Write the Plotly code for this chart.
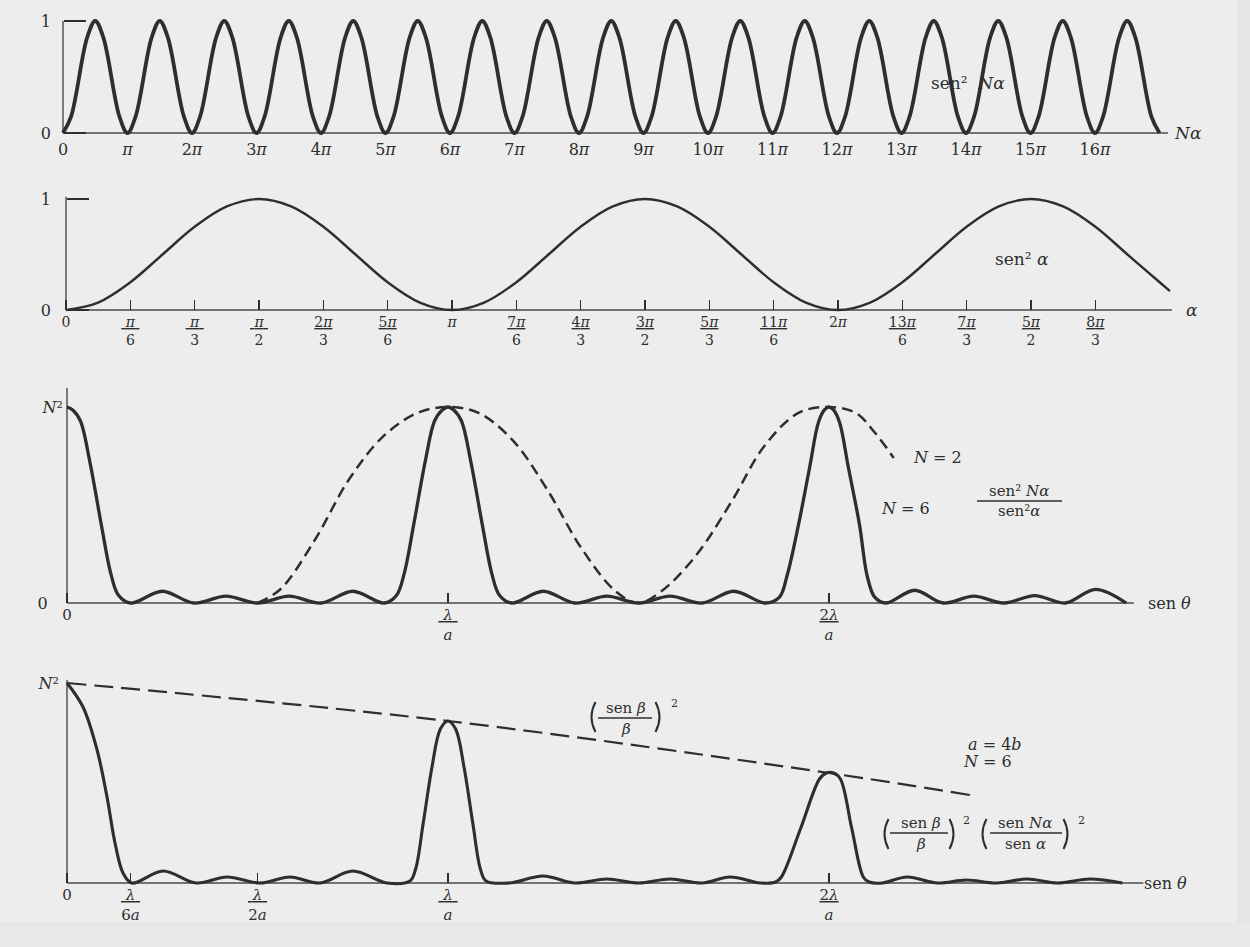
import plotly.graph_objects as go

W, H = 1250, 947
INK = "#2e2e2e"
FONT = "DejaVu Serif"

# ---------------- data ----------------
# Panel 1: sen^2 N alpha, x in units of pi
na_x = [0, 0.125, 0.375, 0.5, 0.625, 0.875,
        1, 1.125, 1.375, 1.5, 1.625, 1.875,
        2, 2.125, 2.375, 2.5, 2.625, 2.875,
        3, 3.125, 3.375, 3.5, 3.625, 3.875,
        4, 4.125, 4.375, 4.5, 4.625, 4.875,
        5, 5.125, 5.375, 5.5, 5.625, 5.875,
        6, 6.125, 6.375, 6.5, 6.625, 6.875,
        7, 7.125, 7.375, 7.5, 7.625, 7.875,
        8, 8.125, 8.375, 8.5, 8.625, 8.875,
        9, 9.125, 9.375, 9.5, 9.625, 9.875,
        10, 10.125, 10.375, 10.5, 10.625, 10.875,
        11, 11.125, 11.375, 11.5, 11.625, 11.875,
        12, 12.125, 12.375, 12.5, 12.625, 12.875,
        13, 13.125, 13.375, 13.5, 13.625, 13.875,
        14, 14.125, 14.375, 14.5, 14.625, 14.875,
        15, 15.125, 15.375, 15.5, 15.625, 15.875,
        16, 16.125, 16.375, 16.5, 16.625, 16.875,
        17]
na_y = [0, 0.146, 0.854, 1, 0.854, 0.146,
        0, 0.146, 0.854, 1, 0.854, 0.146,
        0, 0.146, 0.854, 1, 0.854, 0.146,
        0, 0.146, 0.854, 1, 0.854, 0.146,
        0, 0.146, 0.854, 1, 0.854, 0.146,
        0, 0.146, 0.854, 1, 0.854, 0.146,
        0, 0.146, 0.854, 1, 0.854, 0.146,
        0, 0.146, 0.854, 1, 0.854, 0.146,
        0, 0.146, 0.854, 1, 0.854, 0.146,
        0, 0.146, 0.854, 1, 0.854, 0.146,
        0, 0.146, 0.854, 1, 0.854, 0.146,
        0, 0.146, 0.854, 1, 0.854, 0.146,
        0, 0.146, 0.854, 1, 0.854, 0.146,
        0, 0.146, 0.854, 1, 0.854, 0.146,
        0, 0.146, 0.854, 1, 0.854, 0.146,
        0, 0.146, 0.854, 1, 0.854, 0.146,
        0, 0.146, 0.854, 1, 0.854, 0.146,
        0]
na_ticks = [0, 1, 2, 3, 4, 5, 6, 7, 8, 9, 10, 11, 12, 13, 14, 15, 16]
na_labels = ["0", "<i>π</i>", "2<i>π</i>", "3<i>π</i>", "4<i>π</i>", "5<i>π</i>",
             "6<i>π</i>", "7<i>π</i>", "8<i>π</i>", "9<i>π</i>", "10<i>π</i>",
             "11<i>π</i>", "12<i>π</i>", "13<i>π</i>", "14<i>π</i>", "15<i>π</i>",
             "16<i>π</i>"]

# Panel 2: sen^2 alpha, x in units of pi
al_x = [0, 0.0833, 0.1667, 0.25, 0.3333, 0.4167, 0.5, 0.5833, 0.6667, 0.75, 0.8333,
        0.9167, 1.0, 1.0833, 1.1667, 1.25, 1.3333, 1.4167, 1.5, 1.5833, 1.6667, 1.75,
        1.8333, 1.9167, 2.0, 2.0833, 2.1667, 2.25, 2.3333, 2.4167, 2.5, 2.5833, 2.6667,
        2.75, 2.8333, 2.86]
al_y = [0, 0.067, 0.25, 0.5, 0.75, 0.933, 1.0, 0.933, 0.75, 0.5, 0.25,
        0.067, 0, 0.067, 0.25, 0.5, 0.75, 0.933, 1.0, 0.933, 0.75, 0.5,
        0.25, 0.067, 0, 0.067, 0.25, 0.5, 0.75, 0.933, 1.0, 0.933, 0.75,
        0.5, 0.25, 0.17]
al_ticks = [0, 0.1667, 0.3333, 0.5, 0.6667, 0.8333, 1.0, 1.1667, 1.3333, 1.5, 1.6667,
            1.8333, 2.0, 2.1667, 2.3333, 2.5, 2.6667]
al_num = ["0", "π", "π", "π", "2π", "5π", "π", "7π", "4π", "3π", "5π",
          "11π", "2π", "13π", "7π", "5π", "8π"]
al_den = ["", "6", "3", "2", "3", "6", "", "6", "3", "2", "3",
          "6", "", "6", "3", "2", "3"]

# Panel 3: N = 6 and N = 2, x in units of lambda/a, y in units of N^2
n6_x = [0, 0.015, 0.035, 0.06, 0.09, 0.115, 0.135, 0.167,
        0.25, 0.333, 0.417, 0.5, 0.583, 0.667, 0.75, 0.833,
        0.865, 0.885, 0.91, 0.94, 0.965, 0.985, 1.0, 1.015, 1.035, 1.06, 1.09, 1.115, 1.135,
        1.167,
        1.25, 1.333, 1.417, 1.5, 1.583, 1.667, 1.75, 1.833,
        1.87, 1.89, 1.92, 1.95, 1.972, 1.988, 2.0, 2.012, 2.028, 2.05, 2.08, 2.1, 2.12, 2.15,
        2.225, 2.3, 2.38, 2.46, 2.54, 2.62, 2.70, 2.78]
n6_y = [1.0, 0.985, 0.93, 0.72, 0.40, 0.15, 0.04, 0,
        0.06, 0, 0.035, 0, 0.035, 0, 0.06, 0,
        0.04, 0.15, 0.40, 0.72, 0.93, 0.985, 1.0, 0.985, 0.93, 0.72, 0.40, 0.15, 0.04,
        0,
        0.06, 0, 0.035, 0, 0.035, 0, 0.06, 0,
        0.03, 0.14, 0.40, 0.70, 0.92, 0.985, 1.0, 0.985, 0.92, 0.70, 0.40, 0.14, 0.03, 0,
        0.065, 0, 0.035, 0, 0.038, 0, 0.07, 0]
n2_x = [0.5, 0.56, 0.65, 0.74, 0.83, 0.92, 1.0, 1.08, 1.17, 1.26, 1.35, 1.44, 1.5,
        1.56, 1.65, 1.745, 1.83, 1.92, 2.0, 2.07, 2.12, 2.17]
n2_y = [0.0, 0.07, 0.32, 0.63, 0.85, 0.97, 1.0, 0.97, 0.83, 0.58, 0.28, 0.06, 0.0,
        0.06, 0.24, 0.52, 0.8, 0.97, 1.0, 0.97, 0.87, 0.74]
p3_ticks = [0, 1, 2]
p3_labels = ["0", "<u>\u00a0<i>λ</i>\u00a0</u><br><i>a</i>", "<u>2<i>λ</i></u><br><i>a</i>"]

# Panel 4: a = 4b, N = 6
g_x = [0, 0.042, 0.079, 0.105, 0.126, 0.147, 0.17,
       0.252, 0.34, 0.42, 0.507, 0.585, 0.664, 0.75, 0.84,
       0.9, 0.915, 0.935, 0.958, 0.98, 1.0, 1.02, 1.042, 1.065, 1.085, 1.1, 1.16,
       1.25, 1.333, 1.417, 1.5, 1.583, 1.667, 1.74, 1.82,
       1.86, 1.875, 1.925, 1.975, 1.993, 2.012, 2.03, 2.06, 2.09, 2.105, 2.14,
       2.205, 2.285, 2.36, 2.44, 2.52, 2.6, 2.685, 2.77]
g_y = [1.0, 0.88, 0.665, 0.43, 0.2, 0.05, 0,
       0.06, 0, 0.03, 0, 0.03, 0, 0.06, 0,
       0.01, 0.07, 0.3, 0.58, 0.77, 0.81, 0.77, 0.58, 0.3, 0.07, 0.01, 0,
       0.035, 0, 0.02, 0, 0.02, 0, 0.03, 0,
       0.005, 0.03, 0.27, 0.52, 0.55, 0.55, 0.52, 0.27, 0.03, 0.005, 0,
       0.03, 0, 0.015, 0, 0.02, 0, 0.02, 0]
env_x = [0, 1.0, 2.0, 2.37]
env_y = [1.0, 0.81, 0.55, 0.44]
p4_ticks = [0, 0.1667, 0.5, 1, 2]
p4_labels = ["0", "<u>\u00a0<i>λ</i>\u00a0</u><br>6<i>a</i>",
             "<u>\u00a0<i>λ</i>\u00a0</u><br>2<i>a</i>",
             "<u>\u00a0<i>λ</i>\u00a0</u><br><i>a</i>", "<u>2<i>λ</i></u><br><i>a</i>"]

# ---------------- layout geometry (pixels) ----------------
geo = {
    1: dict(x0=63, sx=64.5, y0=133, sy=112),
    2: dict(x0=66, sx=386.0, y0=310, sy=111),
    3: dict(x0=67, sx=381.0, y0=603, sy=196),
    4: dict(x0=67, sx=381.0, y0=883, sy=200),
}


def pxp(x):
    return x / W


def pyp(y):
    return 1 - y / H


fig = go.Figure()


def ax(i):
    return ("x" if i == 1 else f"x{i}"), ("y" if i == 1 else f"y{i}")


def line_trace(i, xs, ys, width, dash="solid"):
    xa, ya = ax(i)
    fig.add_trace(go.Scatter(x=xs, y=ys, mode="lines", xaxis=xa, yaxis=ya,
                             line=dict(color=INK, width=width, dash=dash, shape="spline",
                                       smoothing=1.0),
                             hoverinfo="skip", showlegend=False))


line_trace(1, na_x, na_y, 3.8)
line_trace(2, al_x, al_y, 2.4)
line_trace(3, n2_x, n2_y, 2.5, "11px,6px")
line_trace(3, n6_x, n6_y, 3.3)
line_trace(4, env_x, env_y, 2.2, "19px,8px")
line_trace(4, g_x, g_y, 3.1)


def frac_tick(n, d):
    n = n.replace("π", "<i>π</i>")
    if d == "":
        return n
    num = n if len(n) > 8 else "\u00a0" + n + "\u00a0"
    return f"<u>{num}</u><br>{d}"


xt = {
    1: dict(tickvals=na_ticks, ticktext=na_labels, ticks="", size=16, standoff=5),
    2: dict(tickvals=al_ticks, ticktext=[frac_tick(n, d) for n, d in zip(al_num, al_den)],
            ticks="inside", size=14, standoff=2),
    3: dict(tickvals=p3_ticks, ticktext=p3_labels, ticks="inside", size=15, standoff=1),
    4: dict(tickvals=p4_ticks, ticktext=p4_labels, ticks="inside", size=15, standoff=1),
}
yt = {
    1: dict(tickvals=[0, 1], ticktext=["0", "1"], ticks="inside", ticklen=22, standoff=12),
    2: dict(tickvals=[0, 1], ticktext=["0", "1"], ticks="inside", ticklen=22, standoff=15),
    3: dict(tickvals=[0, 1], ticktext=["0\u00a0\u00a0\u00a0", "<i>N</i>²"],
            ticks="", ticklen=0, standoff=4),
    4: dict(tickvals=[1], ticktext=["<i>N</i>²"], ticks="", ticklen=0, standoff=8),
}
layout = {}
for i, g in geo.items():
    xk = "xaxis" if i == 1 else f"xaxis{i}"
    yk = "yaxis" if i == 1 else f"yaxis{i}"
    layout[xk] = dict(domain=[0, 1], range=[-g["x0"] / g["sx"], (W - g["x0"]) / g["sx"]],
                      anchor="free", position=pyp(g["y0"]), showgrid=False, zeroline=False,
                      showline=False, tickvals=xt[i]["tickvals"], ticktext=xt[i]["ticktext"],
                      ticks=xt[i]["ticks"], ticklen=10, tickwidth=1.3, tickcolor=INK,
                      tickfont=dict(family=FONT, size=xt[i]["size"], color=INK),
                      ticklabelstandoff=xt[i]["standoff"], automargin=False, fixedrange=True)
    layout[yk] = dict(domain=[0, 1], range=[(g["y0"] - H) / g["sy"], g["y0"] / g["sy"]],
                      anchor="free", position=pxp(g["x0"]), showgrid=False, zeroline=False,
                      showline=False, tickvals=yt[i]["tickvals"], ticktext=yt[i]["ticktext"],
                      ticks=yt[i]["ticks"], ticklen=yt[i]["ticklen"], tickwidth=1.3,
                      tickcolor=INK, tickfont=dict(family=FONT, size=16, color=INK),
                      ticklabelstandoff=yt[i]["standoff"], automargin=False, fixedrange=True)

shapes = []
# background strips of the scan
shapes.append(dict(type="rect", xref="paper", yref="paper", x0=pxp(1237), x1=1, y0=0, y1=1,
                   line=dict(width=0), fillcolor="#e3e6e3", layer="below"))
shapes.append(dict(type="rect", xref="paper", yref="paper", x0=0, x1=1, y0=0, y1=pyp(922),
                   line=dict(width=0), fillcolor="#e6e9e6", layer="below"))
# axis lines (baseline and vertical)
axis_ext = {1: (17.13, 1.0), 2: (2.865, 1.02), 3: (2.80, 1.097), 4: (2.825, 1.015)}
for i, (xe, ye) in axis_ext.items():
    xa, ya = ax(i)
    shapes.append(dict(type="line", xref=xa, yref=ya, x0=0, x1=xe, y0=0, y1=0,
                       line=dict(color="#4a4a4a", width=1.4), layer="below"))
    shapes.append(dict(type="line", xref=xa, yref=ya, x0=0, x1=0, y0=0, y1=ye,
                       line=dict(color="#4a4a4a", width=1.4), layer="below"))


def txt(x, y, s, size=16, xanchor="center"):
    fig.add_annotation(x=pxp(x), y=pyp(y), xref="paper", yref="paper", text=s,
                       showarrow=False, xanchor=xanchor, yanchor="middle",
                       font=dict(family=FONT, size=size, color=INK))


def bar(xa, xb, y):
    shapes.append(dict(type="line", xref="paper", yref="paper", x0=pxp(xa), x1=pxp(xb),
                       y0=pyp(y), y1=pyp(y), line=dict(color=INK, width=1.3)))


def paren(cx, cy, h, left=True):
    # a tall bracket drawn as a curved path (pixel geometry -> paper coords)
    s = 1 if left else -1
    xa, xm = cx + 3.5 * s, cx - 4.5 * s
    path = (f"M {pxp(xa)},{pyp(cy - h / 2)} Q {pxp(xm)},{pyp(cy)} {pxp(xa)},{pyp(cy + h / 2)}")
    shapes.append(dict(type="path", xref="paper", yref="paper", path=path,
                       line=dict(color=INK, width=2.0)))


# panel 1 labels
txt(968, 83, "sen²\u00a0 <i>Nα</i>", 17)
txt(1172, 133, "<i>Nα</i>", 17, "left")
# panel 2 labels
txt(1022, 259, "sen² <i>α</i>", 17)
txt(1184, 310, "<i>α</i>", 17, "left")
# panel 3 labels
txt(937, 457, "<i>N</i> = 2", 16)
txt(905, 508, "<i>N</i> = 6", 16)
txt(1019, 491, "sen² <i>Nα</i>", 15)
txt(1019, 511, "sen²<i>α</i>", 15)
bar(977, 1062, 501)
txt(1146, 603, "sen <i>θ</i>", 16, "left")
# panel 4 labels
paren(592, 717, 30, True)
txt(626, 708, "sen <i>β</i>", 15)
txt(626, 729, "<i>β</i>", 15)
bar(598, 652, 718)
paren(659, 717, 30, False)
txt(674, 703, "2", 11)

txt(995, 744, "<i>a</i> = 4<i>b</i>", 16)
txt(987, 761, "<i>N</i> = 6", 16)

paren(885, 834, 30, True)
txt(921, 823, "sen <i>β</i>", 15)
txt(921, 844, "<i>β</i>", 15)
bar(890, 948, 833)
paren(953, 834, 30, False)
txt(967, 820, "2", 11)
paren(983, 834, 30, True)
txt(1025, 823, "sen <i>Nα</i>", 15)
txt(1025, 844, "sen <i>α</i>", 15)
bar(990, 1062, 833)
paren(1067, 834, 30, False)
txt(1081, 820, "2", 11)
txt(1142, 883, "sen <i>θ</i>", 16, "left")

layout.update(dict(width=W, height=H, margin=dict(l=0, r=0, t=0, b=0), autosize=False,
                   paper_bgcolor="#ededed", plot_bgcolor="rgba(0,0,0,0)", showlegend=False,
                   shapes=shapes))
fig.update_layout(**layout)

fig.write_html("out.html", config={"displayModeBar": False, "staticPlot": True},
               post_script="document.body.style.margin='0';document.body.style.overflow='hidden';")
